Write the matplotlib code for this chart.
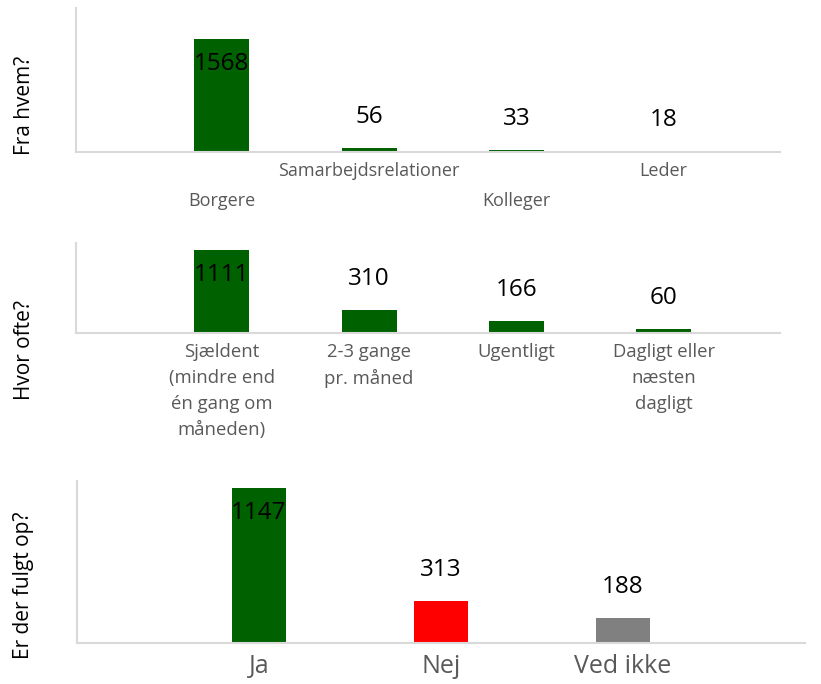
import matplotlib
matplotlib.use("Agg")
from matplotlib import pyplot as plt

plt.rcParams['font.family'] = ['Open Sans', 'DejaVu Sans']

GREEN = '#006100'
SPINE = '#d9d9d9'
LABEL_GREY = '#595959'

# Fra hvem?
who_labels = ['Borgere', 'Samarbejdsrelationer', 'Kolleger', 'Leder']
who_values = [1568, 56, 33, 18]

# Hvor ofte?
freq_labels = ['Sjældent\n(mindre end\nén gang om\nmåneden)', '2-3 gange\npr. måned',
               'Ugentligt', 'Dagligt eller\nnæsten\ndagligt']
freq_values = [1111, 310, 166, 60]

# Er der fulgt op?
follow_labels = ['Ja', 'Nej', 'Ved ikke']
follow_values = [1147, 313, 188]
follow_colors = [GREEN, '#ff0000', '#808080']

W, H = 821, 684
fig = plt.figure(figsize=(W / 100, H / 100), dpi=100)


def px_axes(left, top, right, bottom):
    return fig.add_axes([left / W, 1 - bottom / H, (right - left) / W, (bottom - top) / H])


def style(ax):
    for s in ['top', 'right']:
        ax.spines[s].set_visible(False)
    for s in ['left', 'bottom']:
        ax.spines[s].set_color(SPINE)
        ax.spines[s].set_linewidth(1.5)
    ax.set_xticks([])
    ax.set_yticks([])


def bars(ax, values, colors, width, ymax, xlim):
    x = list(range(len(values)))
    ax.bar(x, values, width=width, color=colors)
    ax.set_ylim(0, ymax)
    ax.set_xlim(*xlim)
    for i, v in enumerate(values):
        # labels that would run off the top go inside the bar
        if v / ymax > 0.7:
            ax.annotate(str(v), (i, v), xytext=(0, -18), textcoords='offset points',
                        ha='center', va='center', fontsize=17.5, color='black')
        else:
            ax.annotate(str(v), (i, v), xytext=(0, 22), textcoords='offset points',
                        ha='center', va='center', fontsize=17.5, color='black')


def cat_label(ax, i, text, pad, size=13, ls=1.35):
    ax.annotate(text, (i, 0), xycoords=('data', 'axes fraction'), xytext=(0, -pad),
                textcoords='offset points', ha='center', va='top', fontsize=size,
                color=LABEL_GREY, linespacing=ls, annotation_clip=False)


# panel 1
ax1 = px_axes(76, 8, 780, 152)
style(ax1)
bars(ax1, who_values, GREEN, 0.373, 2000, (-0.99, 3.79))
for i, lab in enumerate(who_labels):
    cat_label(ax1, i, lab, 7 if i % 2 else 29)

# panel 2
ax2 = px_axes(76, 243, 780, 333)
style(ax2)
bars(ax2, freq_values, GREEN, 0.373, 1200, (-0.99, 3.79))
for i, lab in enumerate(freq_labels):
    cat_label(ax2, i, lab, 7, size=13.3, ls=1.57)

# panel 3
ax3 = px_axes(77, 481, 805, 643)
style(ax3)
bars(ax3, follow_values, follow_colors, 0.3, 1200, (-1.0, 3.0))
for i, lab in enumerate(follow_labels):
    cat_label(ax3, i, lab, 8, size=18)

fig.text(24 / W, 1 - 105 / H, 'Fra hvem?', rotation=90, ha='center', va='center', fontsize=15)
fig.text(24 / W, 1 - 350 / H, 'Hvor ofte?', rotation=90, ha='center', va='center', fontsize=15)
fig.text(24 / W, 1 - 585 / H, 'Er der fulgt op?', rotation=90, ha='center', va='center', fontsize=15)

fig.savefig('out.png', dpi=100)
